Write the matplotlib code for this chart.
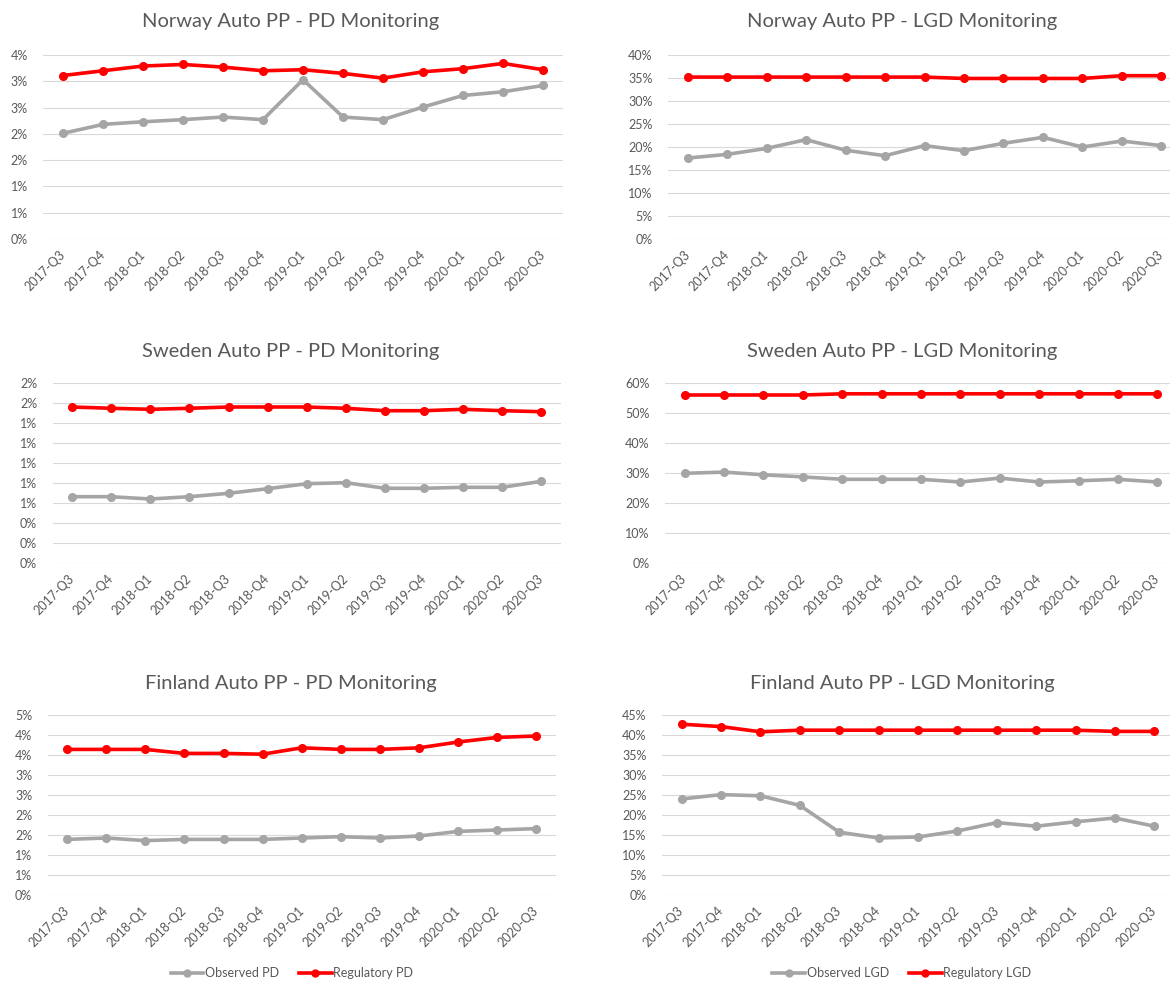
import matplotlib
matplotlib.use('Agg')
import matplotlib.pyplot as plt
import numpy as np
from matplotlib.ticker import FuncFormatter
from matplotlib.lines import Line2D

plt.rcParams['font.family'] = ['Lato', 'DejaVu Sans']

quarters = ['2017-Q3', '2017-Q4', '2018-Q1', '2018-Q2', '2018-Q3', '2018-Q4', '2019-Q1',
            '2019-Q2', '2019-Q3', '2019-Q4', '2020-Q1', '2020-Q2', '2020-Q3']

# values in percent
no_pd_obs = [2.01, 2.18, 2.23, 2.27, 2.32, 2.27, 3.03, 2.32, 2.27, 2.51, 2.73, 2.80, 2.92]
no_pd_reg = [3.11, 3.20, 3.29, 3.32, 3.27, 3.20, 3.22, 3.15, 3.06, 3.18, 3.24, 3.34, 3.22]

no_lgd_obs = [17.6, 18.4, 19.7, 21.6, 19.3, 18.1, 20.3, 19.2, 20.8, 22.1, 20.0, 21.3, 20.3]
no_lgd_reg = [35.2, 35.2, 35.2, 35.2, 35.2, 35.2, 35.2, 34.9, 34.9, 34.9, 34.9, 35.5, 35.5]

se_pd_obs = [0.663, 0.663, 0.640, 0.663, 0.697, 0.743, 0.793, 0.803, 0.747, 0.747, 0.757, 0.757, 0.817]
se_pd_reg = [1.560, 1.547, 1.537, 1.547, 1.560, 1.560, 1.560, 1.547, 1.523, 1.523, 1.537, 1.523, 1.513]

se_lgd_obs = [29.9, 30.3, 29.4, 28.7, 27.9, 27.9, 27.9, 27.0, 28.3, 27.0, 27.4, 27.9, 27.0]
se_lgd_reg = [56.0, 56.0, 56.0, 56.0, 56.4, 56.4, 56.4, 56.4, 56.4, 56.4, 56.4, 56.4, 56.4]

fi_pd_obs = [1.39, 1.425, 1.36, 1.39, 1.39, 1.39, 1.425, 1.458, 1.425, 1.475, 1.59, 1.625, 1.66]
fi_pd_reg = [3.64, 3.64, 3.64, 3.54, 3.54, 3.52, 3.68, 3.64, 3.64, 3.68, 3.825, 3.94, 3.975]

fi_lgd_obs = [24.0, 25.1, 24.8, 22.4, 15.7, 14.25, 14.5, 16.0, 18.1, 17.2, 18.3, 19.25, 17.2]
fi_lgd_reg = [42.7, 42.1, 40.8, 41.2, 41.2, 41.2, 41.2, 41.2, 41.2, 41.2, 41.2, 40.9, 40.9]

titles = ['Norway Auto PP - PD Monitoring', 'Norway Auto PP - LGD Monitoring',
          'Sweden Auto PP - PD Monitoring', 'Sweden Auto PP - LGD Monitoring',
          'Finland Auto PP - PD Monitoring', 'Finland Auto PP - LGD Monitoring']

GRAY = '#a5a5a5'
RED = '#ff0000'
TXT = '#595959'

W, H = 1170, 981
fig = plt.figure(figsize=(W / 100, H / 100), dpi=100)


def px_axes(l, r, t, b):
    return fig.add_axes([l / W, 1 - b / H, (r - l) / W, (b - t) / H])


def excel_pct(v, pos):
    # excel rounds half away from zero
    return '%d%%' % int(np.floor(v + 0.5 + 1e-9))


# plot areas in pixels: left, right, top, bottom, ymax, ystep
boxes = [(43, 563, 55, 239, 3.5, 0.5), (668, 1181, 55, 239, 40, 5),
         (52.5, 561, 383, 563, 1.8, 0.2), (665, 1177, 383, 563, 60, 10),
         (47.5, 556, 715, 895, 4.5, 0.5), (662, 1174, 715, 895, 45, 5)]
series = [(no_pd_obs, no_pd_reg), (no_lgd_obs, no_lgd_reg),
          (se_pd_obs, se_pd_reg), (se_lgd_obs, se_lgd_reg),
          (fi_pd_obs, fi_pd_reg), (fi_lgd_obs, fi_lgd_reg)]
title_y = [22, 352, 683]
title_x = [291, 902]

x = np.arange(len(quarters))
for i in range(6):
    l, r, t, b, ymax, ystep = boxes[i]
    obs, reg = series[i]
    ax = px_axes(l, r, t, b)
    ax.plot(x, obs, '-o', color=GRAY, lw=2.6, ms=5.5, solid_capstyle='round')
    ax.plot(x, reg, '-o', color=RED, lw=2.6, ms=5.5, solid_capstyle='round')
    ax.set_xlim(-0.5, len(quarters) - 0.5)
    ax.set_ylim(0, ymax)
    ax.set_yticks(np.arange(0, ymax + ystep / 2, ystep))
    ax.yaxis.set_major_formatter(FuncFormatter(excel_pct))
    ax.set_xticks(x)
    ax.set_xticklabels(quarters, rotation=45, ha='right', va='center', rotation_mode='anchor')
    ax.tick_params(axis='both', length=0, colors=TXT, labelsize=9)
    ax.tick_params(axis='y', pad=11)
    ax.tick_params(axis='x', pad=10)
    ax.grid(axis='y', color='#d9d9d9', lw=0.8)
    ax.set_axisbelow(True)
    for s in ax.spines.values():
        s.set_visible(False)
    fig.text(title_x[i % 2] / W, 1 - title_y[i // 2] / H, titles[i], ha='center', va='center',
             fontsize=14.5, color=TXT)

# legends at the bottom
for cx, kind in [(292, 'PD'), (902, 'LGD')]:
    h = [Line2D([], [], color=GRAY, lw=2.6, marker='o', ms=5),
         Line2D([], [], color=RED, lw=2.6, marker='o', ms=5)]
    fig.legend(h, ['Observed ' + kind, 'Regulatory ' + kind], loc='center',
               bbox_to_anchor=(cx / W, 1 - 973 / H), ncol=2, frameon=False,
               fontsize=9, labelcolor=TXT, handlelength=2.6, handletextpad=0.15,
               columnspacing=1.6)

fig.savefig('out.png', dpi=100)
